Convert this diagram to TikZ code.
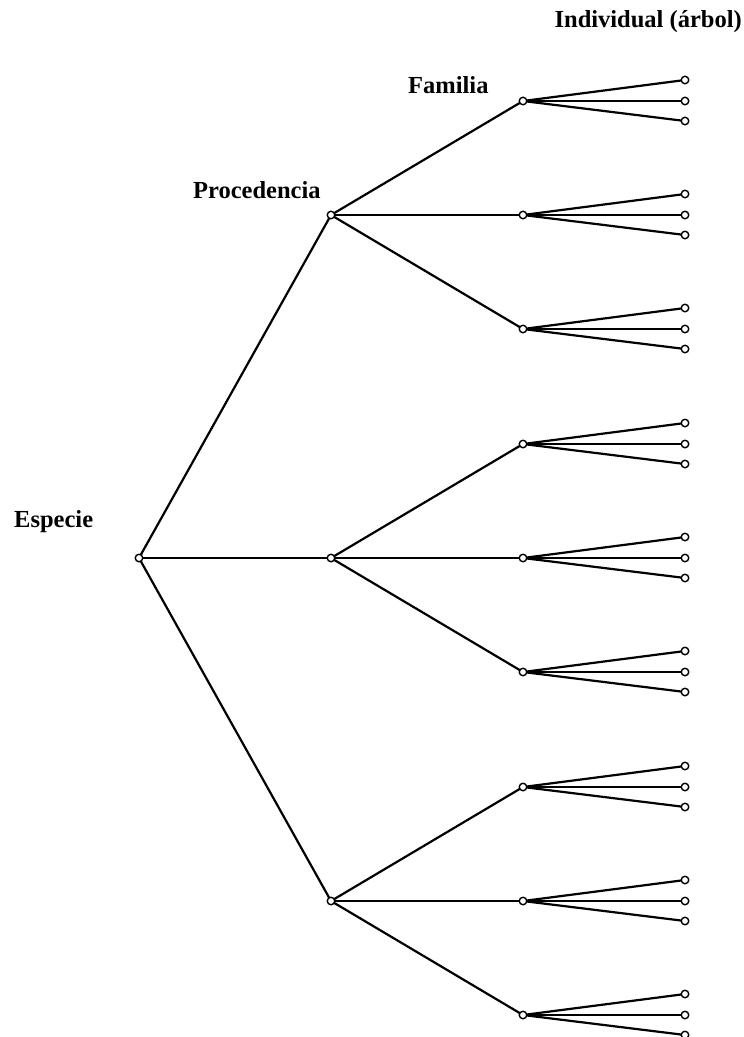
\documentclass[tikz,border=0pt]{standalone}
\usepackage{fontspec}
\setmainfont{Liberation Serif}
\begin{document}
\begin{tikzpicture}[x=1pt,y=-1pt,
  vtx/.style={circle,draw,fill=white,inner sep=0pt,minimum size=7.5pt,line width=1.4pt},
  edge/.style={line width=2.2pt},
  lab/.style={font=\fontsize{24.5}{27}\selectfont\bfseries,inner sep=0pt,anchor=base west}]
\useasboundingbox (0,0) rectangle (744,1037);
% labels
\node[lab] (lesp) at (14,527) {Especie};
\node[lab] (lpro) at (193,198) {Procedencia};
\node[lab] (lfam) at (408,93) {Familia};
\node[lab,anchor=base east] (lind) at (742,27) {Individual (árbol)};
% coordinates of nodes
\coordinate (r) at (139,558);
\foreach \i/\py in {1/215,2/558,3/901}{
  \coordinate (p\i) at (331,\py);
  \draw[edge] (r) -- (p\i);
  \foreach \j/\dy in {1/-114,2/0,3/114}{
    \coordinate (f\i\j) at (523,\py+\dy);
    \draw[edge] (p\i) -- (f\i\j);
    \foreach \k/\ly in {1/-21,2/0,3/20}{
      \coordinate (l\i\j\k) at (685,\py+\dy+\ly);
      \draw[edge] (f\i\j) -- (l\i\j\k);
      \node[vtx] at (l\i\j\k) {};
    }
    \node[vtx] at (f\i\j) {};
  }
  \node[vtx] at (p\i) {};
}
\node[vtx] at (r) {};
\end{tikzpicture}
\end{document}
